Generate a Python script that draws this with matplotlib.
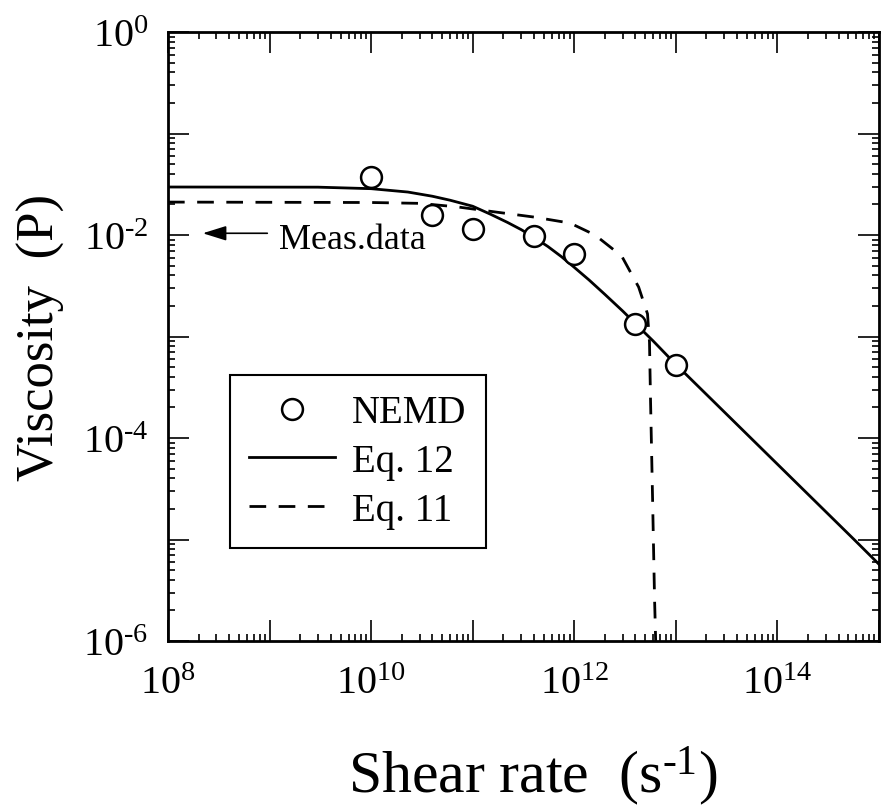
import matplotlib
matplotlib.use('Agg')
import matplotlib.pyplot as plt
from matplotlib.ticker import FixedLocator, LogLocator, NullFormatter, FuncFormatter
import math

# NEMD punkti (nolasīti no attēla)
nemd_rate = [1e10, 4e10, 1e11, 4e11, 1e12, 4e12, 1e13]
nemd_visc = [0.037, 0.0157, 0.0115, 0.0098, 0.0065, 0.00133, 0.00052]

# Eq. 12 līkne (nolasīta)
eq12_rate = [1e8, 3e9, 1e10, 2.3e10, 4e10, 6e10, 1e11, 1.5e11, 2.2e11, 3e11, 4e11,
             5.5e11, 7.5e11, 1e12, 1.4e12, 2e12, 3e12, 4e12, 6e12, 1e13, 1.27e13,
             5.8e14, 1e15]
eq12_visc = [0.0297, 0.0296, 0.0286, 0.0265, 0.0241, 0.0220, 0.0192, 0.0160, 0.0133,
             0.0113, 0.0095, 0.0077, 0.0061, 0.0048, 0.0036, 0.0026, 0.00178, 0.00134,
             9.0e-4, 5.3e-4, 4.2e-4, 9.8e-6, 5.7e-6]

# Eq. 11 līkne (nolasīta)
eq11_rate = [1e8, 1e10, 3e10, 7.1e10, 1.64e11, 4.05e11, 9.1e11, 1.6e12, 2.93e12,
             4.3e12, 5.26e12, 5.5e12, 5.63e12, 5.9e12, 6.17e12, 6.4e12]
eq11_visc = [0.0211, 0.0209, 0.0205, 0.0189, 0.0169, 0.0150, 0.0131, 0.0100, 0.0062,
             0.00307, 0.00167, 8.8e-4, 2.4e-4, 2.5e-5, 2.6e-6, 6.6e-7]

meas_visc = 0.0104

x_exponents = list(range(8, 16))
y_exponents = list(range(-6, 1))

plt.rcParams['font.family'] = ['Liberation Serif', 'DejaVu Serif']
plt.rcParams['mathtext.fontset'] = 'custom'
plt.rcParams['mathtext.rm'] = 'Liberation Serif'
plt.rcParams['mathtext.it'] = 'Liberation Serif:italic'
plt.rcParams['mathtext.bf'] = 'Liberation Serif:bold'


def decade_label(v, pos):
    e = int(round(math.log10(v)))
    if e % 2:
        return ''
    s = str(e).replace('-', '\u2010')
    return r'$10^{%s}$' % s


fig = plt.figure(figsize=(8.81, 8.12), dpi=100)
ax = fig.add_axes([168 / 881, 1 - 642 / 812, 711 / 881, 609 / 812])

ax.plot(eq12_rate, eq12_visc, '-', color='black', lw=2.0, label='Eq. 12', zorder=2)
ax.plot(eq11_rate, eq11_visc, color='black', lw=2.0, dashes=(6, 4.5), label='Eq. 11', zorder=2)
ax.plot(nemd_rate, nemd_visc, 'o', ms=15, mfc='white', mec='black', mew=1.8,
        label='NEMD', zorder=3)

ax.set_xscale('log')
ax.set_yscale('log')
ax.set_xlim(1e8, 1e15)
ax.set_ylim(1e-6, 1)

ax.xaxis.set_major_locator(FixedLocator([10.0 ** e for e in x_exponents]))
ax.yaxis.set_major_locator(FixedLocator([10.0 ** e for e in y_exponents]))
ax.xaxis.set_minor_locator(LogLocator(base=10, subs=range(2, 10), numticks=50))
ax.yaxis.set_minor_locator(LogLocator(base=10, subs=range(2, 10), numticks=50))
ax.xaxis.set_major_formatter(FuncFormatter(decade_label))
ax.yaxis.set_major_formatter(FuncFormatter(decade_label))
ax.xaxis.set_minor_formatter(NullFormatter())
ax.yaxis.set_minor_formatter(NullFormatter())

ax.tick_params(which='both', direction='in', top=True, right=True, width=1.2, labelsize=29)
ax.tick_params(which='major', length=15)
ax.tick_params(which='minor', length=5)
ax.tick_params(axis='x', pad=17)
ax.tick_params(axis='y', pad=14)
for sp in ax.spines.values():
    sp.set_linewidth(2.0)

ax.set_xlabel('Shear rate  (s$^{\u20101}$)', fontsize=43)
ax.set_ylabel('Viscosity  (P)', fontsize=38)
ax.xaxis.set_label_coords(0.513, -0.168)
ax.yaxis.set_label_coords(-0.145, 0.5)

# Bultiņa ar uzrakstu
ax.annotate('', xy=(2.2e8, meas_visc), xytext=(9.5e8, meas_visc),
            arrowprops=dict(arrowstyle='-|>,head_length=0.8,head_width=0.25',
                            mutation_scale=18, color='black', lw=1.2,
                            shrinkA=0, shrinkB=0))
ax.text(1.24e9, 0.0074, 'Meas.data', fontsize=26, va='baseline', ha='left')

handles, labels = ax.get_legend_handles_labels()
order = [2, 0, 1]
leg = ax.legend([handles[i] for i in order], [labels[i] for i in order],
                loc='upper left', bbox_to_anchor=(0.087, 0.437), borderaxespad=0,
                fontsize=28, frameon=True, fancybox=False, edgecolor='black',
                framealpha=1, numpoints=1, handlelength=2.2, handletextpad=0.45,
                labelspacing=0.3, borderpad=0.5)
leg.get_frame().set_linewidth(1.5)

plt.savefig('out.png', dpi=100)
